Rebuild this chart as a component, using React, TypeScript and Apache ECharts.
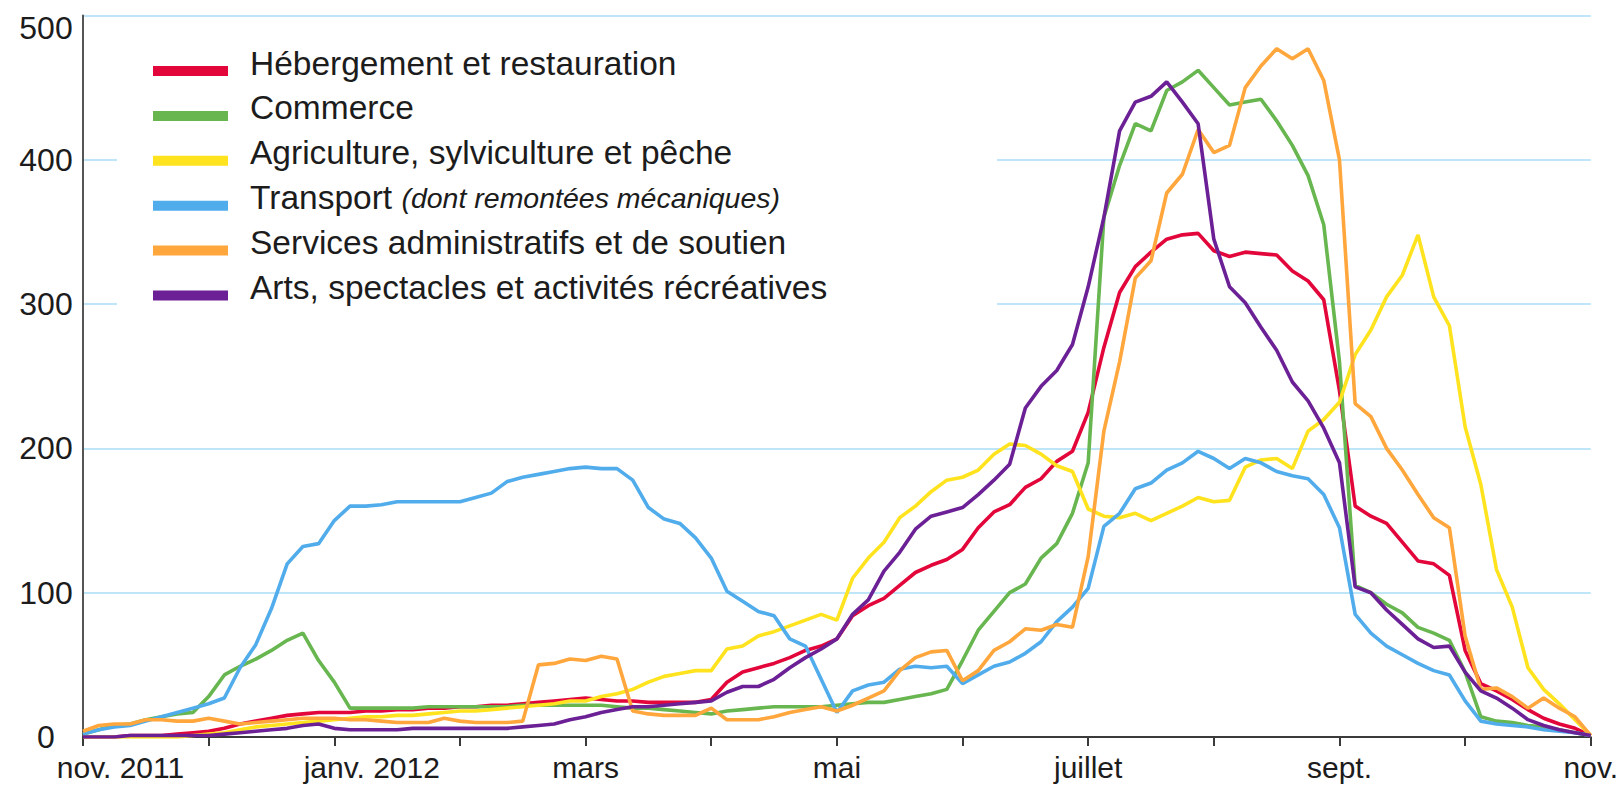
import React, { useEffect, useRef } from "react";
import * as echarts from "echarts";

// x grid: months since 1 Nov 2011, sampled every 1/8 month
const steps: number[] = Array.from({ length: 97 }, (_, i) => i / 8);

const monthNames = ["nov.", "déc.", "janv.", "févr.", "mars", "avril", "mai", "juin", "juillet", "août", "sept.", "oct.", "nov."];
const yearNames: Record<number, string> = { 0: "2011", 2: "2012" };
const yTicks = [0, 100, 200, 300, 400, 500];

const hebergement = [
  0, 0, 0, 1, 1, 1, 2, 3,
  4, 6, 9, 11, 13, 15, 16, 17,
  17, 17, 18, 18, 19, 19, 20, 20,
  21, 21, 22, 22, 23, 24, 25, 26,
  27, 26, 25, 25, 24, 24, 24, 24,
  26, 38, 45, 48, 51, 55, 60, 63,
  68, 84, 91, 96, 105, 114, 119, 123,
  130, 145, 156, 161, 173, 179, 191, 198,
  225, 270, 308, 326, 336, 345, 348, 349,
  337, 333, 336, 335, 334, 323, 316, 303,
  240, 160, 153, 148, 135, 122, 120, 112,
  60, 37, 32, 26, 19, 13, 9, 6,
  1,
];

const commerce = [
  2, 5, 8, 9, 12, 14, 16, 17,
  28, 43, 49, 54, 60, 67, 72, 53,
  38, 20, 20, 20, 20, 20, 21, 21,
  21, 21, 21, 21, 22, 22, 22, 22,
  22, 22, 21, 20, 20, 19, 18, 17,
  16, 18, 19, 20, 21, 21, 21, 21,
  22, 23, 24, 24, 26, 28, 30, 33,
  53, 74, 87, 100, 106, 124, 134, 155,
  190, 360, 396, 425, 420, 448, 454, 462,
  450, 438, 440, 442, 427, 410, 389, 355,
  260, 105, 100, 92, 86, 76, 72, 67,
  45, 14, 11, 10, 8, 7, 5, 3,
  1,
];

const agriculture = [
  0, 0, 0, 0, 0, 0, 0, 1,
  2, 3, 5, 7, 8, 9, 10, 11,
  12, 13, 14, 14, 15, 15, 16, 17,
  18, 18, 19, 20, 21, 22, 23, 25,
  25, 28, 30, 33, 38, 42, 44, 46,
  46, 61, 63, 70, 73, 77, 81, 85,
  81, 110, 124, 135, 152, 160, 170, 178,
  180, 185, 196, 203, 202, 196, 188, 184,
  158, 153, 152, 155, 150, 155, 160, 166,
  163, 164, 187, 192, 193, 186, 212, 220,
  232, 265, 282, 305, 320, 348, 305, 285,
  215, 175, 116, 90, 48, 33, 23, 12,
  1,
];

const transport = [
  2, 5, 7, 8, 11, 14, 17, 20,
  23, 27, 48, 64, 89, 120, 132, 134,
  150, 160, 160, 161, 163, 163, 163, 163,
  163, 166, 169, 177, 180, 182, 184, 186,
  187, 186, 186, 178, 159, 151, 148, 138,
  124, 101, 94, 87, 84, 68, 63, 40,
  17, 32, 36, 38, 47, 49, 48, 49,
  37, 43, 49, 52, 58, 66, 80, 90,
  103, 146, 155, 172, 176, 185, 190, 198,
  193, 186, 193, 190, 184, 181, 179, 168,
  145, 85, 72, 63, 57, 51, 46, 43,
  25, 11, 9, 8, 7, 5, 4, 3,
  1,
];

const services = [
  4, 8, 9, 9, 12, 12, 11, 11,
  13, 11, 9, 10, 11, 12, 13, 13,
  13, 12, 12, 11, 10, 10, 10, 13,
  11, 10, 10, 10, 11, 50, 51, 54,
  53, 56, 54, 18, 16, 15, 15, 15,
  20, 12, 12, 12, 14, 17, 19, 21,
  18, 22, 27, 32, 46, 55, 59, 60,
  39, 46, 60, 66, 75, 74, 78, 76,
  125, 212, 260, 318, 330, 377, 390, 421,
  405, 410, 450, 465, 477, 470, 477, 455,
  400, 231, 222, 200, 185, 168, 152, 145,
  70, 33, 34, 28, 20, 27, 20, 14,
  1,
];

const arts = [
  0, 0, 0, 1, 1, 1, 1, 1,
  1, 2, 3, 4, 5, 6, 8, 9,
  6, 5, 5, 5, 5, 6, 6, 6,
  6, 6, 6, 6, 7, 8, 9, 12,
  14, 17, 19, 21, 21, 22, 23, 24,
  25, 31, 35, 35, 40, 48, 55, 61,
  68, 85, 95, 115, 128, 144, 153, 156,
  159, 168, 178, 189, 228, 243, 254, 272,
  312, 360, 420, 440, 444, 454, 440, 425,
  345, 312, 301, 284, 268, 246, 233, 214,
  190, 104, 100, 88, 78, 68, 62, 63,
  45, 32, 27, 20, 12, 8, 5, 3,
  1,
];

const seriesNames = [
  "Hébergement et restauration",
  "Commerce",
  "Agriculture, sylviculture et pêche",
  "Transport (dont remontées mécaniques)",
  "Services administratifs et de soutien",
  "Arts, spectacles et activités récréatives",
];
const seriesValues = [hebergement, commerce, agriculture, transport, services, arts];
const seriesColors = ["#e2063a", "#68b64f", "#ffe31e", "#51acec", "#ffa63c", "#6c2096"];

const FONT = "'Liberation Sans', Arial, sans-serif";

export default function App() {
  const ref = useRef<HTMLDivElement>(null);

  useEffect(() => {
    if (!ref.current) return;
    const chart = echarts.init(ref.current, null, { renderer: "svg" });

    const series = seriesNames.map((name, k) => ({
      name,
      type: "line",
      data: steps.map((m, i) => [m, seriesValues[k][i]]),
      showSymbol: false,
      symbol: "none",
      smooth: false,
      lineStyle: { width: 3.6, color: seriesColors[k] },
      itemStyle: { color: seriesColors[k] },
      z: 2,
    }));

    chart.setOption({
      animation: false,
      backgroundColor: "#ffffff",
      textStyle: { fontFamily: FONT },
      grid: { left: 83, right: 29, top: 15.5, bottom: 50 },
      graphic: [
        {
          type: "rect",
          z: 1,
          shape: { x: 117, y: 32, width: 880, height: 300 },
          style: { fill: "#ffffff" },
        },
      ],
      legend: {
        orient: "vertical",
        left: 153,
        top: 46,
        padding: 0,
        itemWidth: 75,
        itemHeight: 10,
        itemGap: 10.9,
        icon: "rect",
        selectedMode: false,
        data: seriesNames,
        formatter: (name: string) => {
          if (name.startsWith("Transport")) {
            return "{a|Transport }{b|(dont remontées mécaniques)}";
          }
          return "{a|" + name + "}";
        },
        textStyle: {
          color: "#1c1c1c",
          fontFamily: FONT,
          padding: [0, 0, 16, 17],
          rich: {
            a: { fontSize: 33.5, lineHeight: 34, color: "#1c1c1c", fontFamily: FONT },
            b: { fontSize: 28.5, lineHeight: 34, fontStyle: "italic", color: "#1c1c1c", fontFamily: FONT },
          },
        },
      },
      xAxis: {
        type: "value",
        min: 0,
        max: 12,
        interval: 1,
        axisLine: { show: true, lineStyle: { color: "#3a3a3a", width: 2 } },
        axisTick: { show: true, length: 9, lineStyle: { color: "#3a3a3a", width: 2 } },
        splitLine: { show: false },
        axisLabel: {
          show: true,
          margin: 15,
          showMinLabel: true,
          showMaxLabel: true,
          color: "#1c1c1c",
          fontSize: 30,
          fontFamily: FONT,
          formatter: (v: number) => {
            const idx = Math.round(v);
            if (idx % 2 !== 0) return "";
            const yr = yearNames[idx];
            if (yr) return "{s|}{m|" + monthNames[idx] + "}{y| " + yr + "}";
            return "{m|" + monthNames[idx] + "}";
          },
          rich: {
            s: { width: 75, fontSize: 30 },
            m: { fontSize: 30, color: "#1c1c1c", fontFamily: FONT },
            y: { fontSize: 30, color: "#1c1c1c", fontFamily: FONT },
          },
        },
      },
      yAxis: {
        type: "value",
        min: yTicks[0],
        max: yTicks[yTicks.length - 1],
        interval: 100,
        axisLine: { show: true, lineStyle: { color: "#555555", width: 2 } },
        axisTick: { show: false },
        axisLabel: {
          margin: 37,
          align: "center",
          color: "#1c1c1c",
          fontSize: 32,
          fontFamily: FONT,
          formatter: (v: number) =>
            v === yTicks[yTicks.length - 1] ? "{top|" + v + "}" : "{n|" + v + "}",
          rich: {
            top: { fontSize: 32, color: "#1c1c1c", fontFamily: FONT, padding: [24, 0, 0, 0] },
            n: { fontSize: 32, color: "#1c1c1c", fontFamily: FONT },
          },
        },
        splitLine: { show: true, lineStyle: { color: "#a9dcf6", width: 1.5 } },
      },
      series,
    });

    return () => chart.dispose();
  }, []);

  return (
    <div
      ref={ref}
      style={{ position: "absolute", left: 0, top: 0, width: 1621, height: 787 }}
    />
  );
}
